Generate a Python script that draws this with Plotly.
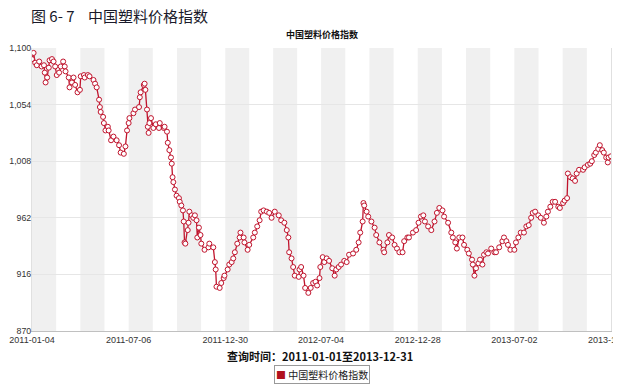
import plotly.graph_objects as go

# ---- data (trading-day index, index value) ----
days = [0, 2, 4, 6, 9, 12, 15, 16, 17, 19, 21, 22, 25, 27, 29, 31, 34, 36, 39, 41,
        42, 46, 47, 50, 52, 54, 57, 60, 61, 65, 66, 70, 72, 77, 79, 81, 84, 85, 86, 89,
        90, 92, 95, 96, 99, 102, 106, 109, 111, 115, 117, 119, 121, 122, 127, 129, 134, 135, 136, 140,
        141, 142, 144, 145, 146, 147, 149, 152, 155, 159, 160, 165, 166, 169, 170, 172, 174, 175, 176, 177,
        179, 181, 184, 185, 187, 189, 190, 191, 192, 195, 196, 197, 200, 202, 204, 206, 207, 209, 211, 212,
        216, 221, 222, 227, 229, 230, 231, 235, 237, 240, 241, 245, 247, 250, 252, 254, 257, 260, 261, 265,
        266, 270, 272, 277, 279, 282, 285, 287, 290, 294, 297, 300, 304, 309, 312, 316, 319, 321, 322, 325,
        327, 329, 334, 335, 337, 340, 342, 346, 349, 352, 355, 357, 360, 361, 364, 366, 369, 372, 376, 379,
        381, 384, 387, 391, 394, 397, 402, 406, 409, 411, 414, 415, 416, 419, 421, 425, 429, 431, 435, 440,
        441, 445, 447, 451, 454, 457, 460, 464, 466, 470, 472, 477, 481, 484, 487, 490, 492, 496, 500, 504,
        507, 510, 514, 516, 521, 525, 527, 530, 532, 535, 539, 541, 545, 547, 551, 552, 554, 556, 559, 561,
        564, 566, 569, 571, 575, 579, 581, 585, 589, 591, 594, 596, 599, 604, 606, 609, 612, 616, 619, 622,
        625, 627, 630, 634, 637, 641, 644, 646, 649, 652, 655, 659, 661, 665, 667, 670, 671, 674, 677, 680,
        682, 685, 690, 692, 696, 699, 701, 704, 706, 709, 711, 714, 716, 719, 721, 722, 725]

values = [1091, 1096, 1088, 1086, 1089, 1085, 1086, 1080, 1072, 1076, 1084, 1090, 1091, 1089, 1085, 1078, 1080, 1085, 1089, 1085,
          1081, 1076, 1068, 1072, 1076, 1070, 1064, 1066, 1077, 1078, 1076, 1078, 1077, 1074, 1071, 1068, 1058, 1052, 1048, 1044,
          1039, 1033, 1036, 1033, 1025, 1028, 1025, 1021, 1015, 1014, 1020, 1033, 1039, 1043, 1047, 1050, 1052, 1060, 1064, 1070,
          1071, 1066, 1050, 1036, 1031, 1039, 1043, 1035, 1038, 1035, 1039, 1035, 1036, 1032, 1023, 1017, 1011, 1006, 995, 991,
          985, 980, 978, 975, 972, 968, 959, 942, 941, 952, 958, 967, 964, 962, 964, 960, 946, 954, 948, 941,
          936, 938, 941, 938, 926, 920, 906, 905, 909, 913, 915, 920, 924, 926, 929, 934, 941, 946, 950, 946,
          942, 936, 940, 946, 950, 955, 960, 967, 968, 967, 966, 962, 967, 964, 960, 958, 952, 946, 934, 929,
          922, 915, 914, 920, 922, 915, 905, 901, 905, 909, 910, 907, 913, 922, 930, 926, 929, 927, 921, 915,
          920, 922, 924, 927, 926, 932, 933, 936, 942, 950, 959, 974, 972, 967, 963, 959, 954, 948, 942, 936,
          934, 942, 948, 946, 940, 937, 934, 934, 943, 946, 946, 950, 952, 958, 963, 964, 959, 955, 952, 959,
          966, 970, 968, 963, 958, 950, 946, 942, 937, 946, 946, 940, 936, 933, 928, 924, 915, 921, 925, 928,
          924, 932, 934, 933, 937, 934, 934, 938, 943, 946, 943, 940, 936, 936, 942, 946, 950, 950, 955, 956,
          962, 966, 967, 964, 962, 958, 963, 967, 971, 975, 975, 971, 970, 974, 976, 978, 998, 995, 994, 992,
          998, 1001, 1001, 1003, 1005, 1006, 1008, 1013, 1015, 1018, 1021, 1017, 1015, 1011, 1007, 1011, 1012]

tick_days = [0, 121, 242, 362, 483, 604, 725]
tick_labels = ["2011-01-04", "2011-07-06", "2011-12-30", "2012-07-04",
               "2012-12-28", "2013-07-02", "2013-12-31"]
y_ticks = [870, 916, 962, 1008, 1054, 1100]

series_name = "中国塑料价格指数"
query_text = "查询时间：2011-01-01至2013-12-31"
fig_title = "图 6- 7&nbsp;&nbsp;&nbsp;&nbsp;中国塑料价格指数"

RED = "#c0142d"
SWATCH = "#b0101e"
CJK = "Noto Sans CJK SC"
NUM = "Liberation Sans"

# the page body adds an 8px offset, so the figure is sized to compensate
W, H = 613, 378

fig = go.Figure()

# alternating bands: each labelled interval is split in 4, 1st and 3rd shaded
shapes = []
for a, b in zip(tick_days[:-1], tick_days[1:]):
    q = (b - a) / 4
    for k in (0, 2):
        shapes.append(dict(type="rect", xref="x", yref="paper",
                           x0=a + k * q, x1=a + (k + 1) * q, y0=0, y1=1,
                           fillcolor="#f0f0f0", line=dict(width=0), layer="below"))

fig.add_trace(go.Scatter(
    x=days, y=values, mode="lines+markers", name=series_name, showlegend=False,
    line=dict(color=RED, width=1.3),
    marker=dict(symbol="circle", size=5, color="white", line=dict(color=RED, width=1)),
))

fig.update_layout(
    width=W, height=H,
    margin=dict(l=24, r=10, t=40, b=55, autoexpand=False),
    paper_bgcolor="white", plot_bgcolor="white",
    shapes=shapes,
    showlegend=False,
    title=dict(text=fig_title, x=23 / W, xanchor="left", xref="container",
               y=1 - 9 / H, yanchor="middle", yref="container",
               font=dict(family=CJK, size=15, color="#1a1a2a")),
    xaxis=dict(range=[0, 725], tickmode="array", tickvals=tick_days, ticktext=tick_labels,
               showgrid=False, zeroline=False, showline=True, linecolor="#c0c0c0", linewidth=1,
               ticks="", automargin=False, ticklabeloverflow="allow",
               tickfont=dict(family=NUM, size=9, color="#333333")),
    yaxis=dict(range=[870, 1100], tickmode="array", tickvals=y_ticks, tickformat=",d",
               showgrid=True, gridcolor="#e6e6e6", zeroline=False,
               showline=True, linecolor="#e0e0e0", mirror=True, ticks="", automargin=False,
               ticklabelstandoff=-2, ticklabeloverflow="allow",
               tickfont=dict(family=NUM, size=8.8, color="#333333")),
    annotations=[
        dict(text="<b>" + series_name + "</b>", xref="paper", yref="paper",
             x=0.5, y=1.049, xanchor="center", yanchor="middle", showarrow=False,
             font=dict(family=CJK, size=9, color="#111111")),
        dict(text="<b>" + query_text + "</b>", xref="paper", yref="paper",
             x=0.497, y=-0.088, xanchor="center", yanchor="middle", showarrow=False,
             font=dict(family=CJK, size=11, color="#111111")),
        dict(text="<span style='color:" + SWATCH + "'>■</span> " + series_name,
             xref="paper", yref="paper", x=0.5, y=-0.155, xanchor="center", yanchor="middle",
             showarrow=False, bordercolor="#999999", borderwidth=1, borderpad=1,
             bgcolor="white", font=dict(family=CJK, size=10, color="#222222")),
    ],
)

fig.write_html("out.html")
